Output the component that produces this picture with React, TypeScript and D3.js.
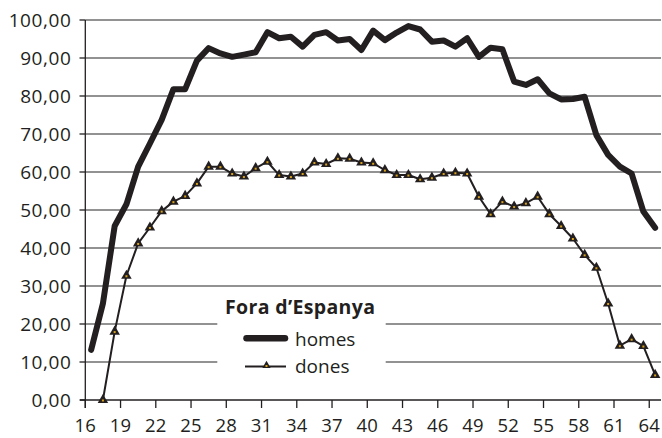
import React from "react";
import * as d3 from "d3";

const ages: number[] = [16,17,18,19,20,21,22,23,24,25,26,27,28,29,30,31,32,33,34,35,36,37,38,39,40,41,42,43,44,45,46,47,48,49,50,51,52,53,54,55,56,57,58,59,60,61,62,63,64];
const homes: (number | null)[] = [13.2,25.4,45.8,51.5,61.4,67.5,73.7,81.8,81.8,89.3,92.6,91.2,90.3,90.9,91.5,96.8,95.2,95.6,93.0,96.1,96.8,94.6,95.0,92.1,97.2,94.7,96.7,98.4,97.5,94.3,94.6,93.0,95.2,90.3,92.7,92.3,83.8,82.9,84.4,80.7,79.1,79.2,79.8,69.7,64.5,61.4,59.6,49.6,45.3];
const dones: (number | null)[] = [null,0,18.0,32.7,41.2,45.4,49.7,52.2,53.7,57.0,61.4,61.4,59.6,58.8,61.0,62.7,59.2,58.8,59.6,62.5,62.1,63.6,63.5,62.5,62.3,60.5,59.2,59.2,58.1,58.5,59.6,59.8,59.6,53.5,48.9,52.2,50.9,51.8,53.5,48.9,45.8,42.5,38.2,34.8,25.4,14.3,16.0,14.2,6.6];
const xTicks: number[] = [16,19,22,25,28,31,34,37,40,43,46,49,52,55,58,61,64];
const yTicks: number[] = [0,10,20,30,40,50,60,70,80,90,100];
const legendTitle = "Fora d\u2019Espanya";
const seriesNames = ["homes", "dones"];

const W = 662, H = 438;
const FONT = "'Open Sans', 'DejaVu Sans', sans-serif";
const INK = "#231f20";

export default function App() {
  const x = d3.scaleLinear().domain([16, 65]).range([85.3, 661]);
  const y = d3.scaleLinear().domain([0, 100]).range([400, 20]);
  const cx = (a: number) => x(a + 0.5);

  const line = d3.line<[number, number | null]>()
    .defined(d => d[1] !== null)
    .x(d => cx(d[0]))
    .y(d => y(d[1] as number));

  const homesPts: [number, number | null][] = ages.map((a, i) => [a, homes[i]]);
  const donesPts: [number, number | null][] = ages.map((a, i) => [a, dones[i]]);
  const tri = d3.symbol(d3.symbolTriangle, 48)() as string;
  const triSmall = d3.symbol(d3.symbolTriangle, 30)() as string;

  const fmt = (v: number) => v.toFixed(2).replace(".", ",");

  return (
    <svg width={W} height={H} style={{ position: "absolute", left: 0, top: 0, background: "#fff" }}
      fontFamily={FONT}>
      {/* gridlines */}
      {yTicks.filter(t => t > 0).map(t => (
        <line key={"g" + t} x1={85.3} x2={661} y1={y(t)} y2={y(t)} stroke="#6e6e6e" strokeWidth={1.3} />
      ))}
      {/* axes */}
      <line x1={85.3} x2={85.3} y1={y(100)} y2={408} stroke={INK} strokeWidth={1.3} />
      <line x1={80} x2={661} y1={y(0)} y2={y(0)} stroke={INK} strokeWidth={1.3} />
      {yTicks.map(t => (
        <g key={"y" + t}>
          <line x1={79.5} x2={85.3} y1={y(t)} y2={y(t)} stroke={INK} strokeWidth={1.3} />
          <text x={71.5} y={y(t)} dy="0.36em" textAnchor="end" fontSize={19} fill={INK} letterSpacing={0.6}>{fmt(t)}</text>
        </g>
      ))}
      {xTicks.map(t => (
        <g key={"x" + t}>
          <line x1={x(t)} x2={x(t)} y1={400} y2={408} stroke={INK} strokeWidth={1.3} />
          <text x={x(t)} y={432} textAnchor="middle" fontSize={18.5} fill={INK} letterSpacing={0.2}>{t}</text>
        </g>
      ))}
      {/* legend background */}
      <rect x={217.3} y={292} width={168.4} height={98} fill="#fff" />
      {/* series */}
      <path d={line(homesPts) as string} fill="none" stroke={INK} strokeWidth={6} strokeLinejoin="round" strokeLinecap="round" />
      <path d={line(donesPts) as string} fill="none" stroke={INK} strokeWidth={2} strokeLinejoin="round" />
      {donesPts.filter(d => d[1] !== null).map(d => (
        <g key={"m" + d[0]} transform={`translate(${cx(d[0])},${y(d[1] as number)})`}>
          <path d={tri} fill={INK} />
          <rect x={-1} y={-0.5} width={2} height={2} fill="#d9a21b" />
        </g>
      ))}
      {/* legend */}
      <text x={225} y={314.3} fontSize={19.5} fontWeight="bold" fill={INK} letterSpacing={0.35}>{legendTitle}</text>
      <line x1={246.5} x2={285} y1={338.3} y2={338.3} stroke={INK} strokeWidth={6.5} strokeLinecap="round" />
      <text x={295} y={345.7} fontSize={19} fill={INK}>{seriesNames[0]}</text>
      <line x1={245} x2={286} y1={366.5} y2={366.5} stroke={INK} strokeWidth={2} />
      <g transform="translate(266.5,365.5)">
        <path d={triSmall} fill={INK} />
        <rect x={-1} y={-0.5} width={2} height={2} fill="#d9a21b" />
      </g>
      <text x={295} y={373.3} fontSize={19} fill={INK}>{seriesNames[1]}</text>
    </svg>
  );
}
